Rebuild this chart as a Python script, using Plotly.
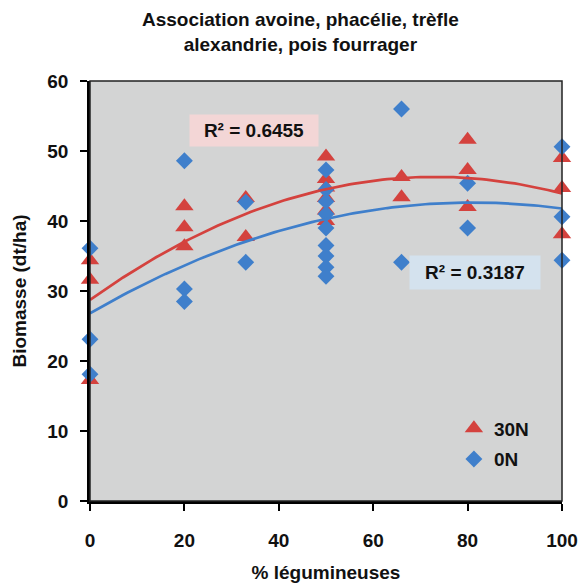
import numpy as np
import plotly.graph_objects as go

# Data
x_30n = [0, 0, 0, 20, 20, 20, 33, 33, 50, 50, 50, 50, 50, 50, 66, 66, 80, 80, 80, 100, 100, 100]
y_30n = [34.4, 31.6, 17.3, 42.1, 39.1, 36.4, 43.3, 37.7, 49.2, 46.0, 44.8, 43.3, 41.5, 40.0,
         46.3, 43.4, 51.6, 47.3, 42.0, 49.0, 44.7, 38.1]
x_0n = [0, 0, 0, 20, 20, 20, 33, 33, 50, 50, 50, 50, 50, 50, 50, 50, 50, 66, 66, 80, 80, 100, 100, 100]
y_0n = [36.1, 23.1, 18.1, 48.6, 30.3, 28.5, 42.7, 34.1, 47.3, 44.5, 42.8, 41.0, 39.0, 36.5, 35.0,
        33.4, 32.1, 56.0, 34.1, 45.4, 39.0, 50.6, 40.6, 34.4]
r2_labels = ["R² = 0.6455", "R² = 0.3187"]
x_ticks = [0, 20, 40, 60, 80, 100]
y_ticks = [0, 10, 20, 30, 40, 50, 60]
title_text = "Association avoine, phacélie, trèfle<br>alexandrie, pois fourrager"

RED = "#d4423e"
BLUE = "#3f7fcb"
FAM = "Liberation Sans, Arial, sans-serif"
FS = 19

xs = np.linspace(0, 100, 101)
fit_red = np.polyval(np.polyfit(x_30n, y_30n, 2), xs)
fit_blue = np.polyval(np.polyfit(x_0n, y_0n, 2), xs)

fig = go.Figure()
fig.add_trace(go.Scatter(x=x_30n, y=y_30n, mode="markers", name="30N", legendgroup="a",
                         cliponaxis=False,
                         marker=dict(symbol="triangle-up", size=16, color=RED)))
fig.add_trace(go.Scatter(x=x_0n, y=y_0n, mode="markers", name="0N", legendgroup="b",
                         cliponaxis=False,
                         marker=dict(symbol="diamond", size=13, color=BLUE)))
fig.add_trace(go.Scatter(x=xs, y=fit_red, mode="lines", line=dict(color=RED, width=2.7),
                         showlegend=False, hoverinfo="skip"))
fig.add_trace(go.Scatter(x=xs, y=fit_blue, mode="lines", line=dict(color=BLUE, width=2.7),
                         showlegend=False, hoverinfo="skip"))

bold = dict(family=FAM, size=FS, color="#111111", weight="bold")

fig.add_annotation(x=34.7, y=52.9, xref="x", yref="y", text=r2_labels[0],
                   showarrow=False, bgcolor="#f3d6d6", font=bold,
                   width=122, height=25, borderpad=3)
fig.add_annotation(x=81.6, y=32.6, xref="x", yref="y", text=r2_labels[1],
                   showarrow=False, bgcolor="#d4e2ee", font=bold,
                   width=124, height=27, borderpad=3)
# title (as annotation for exact placement of the two lines)
fig.add_annotation(x=(300 - 90) / 472, y=(501 - 7) / 420, xref="paper", yref="paper",
                   xanchor="center", yanchor="top", text=title_text, showarrow=False,
                   font=dict(family=FAM, size=19, color="#111", weight="bold"))

fig.add_shape(type="rect", xref="x domain", yref="y domain", x0=0, x1=1, y0=0, y1=1,
              line=dict(color="#222", width=1.5), layer="above")

fig.update_layout(
    width=582, height=587,
    margin=dict(l=90, r=20, t=81, b=86),
    paper_bgcolor="white",
    plot_bgcolor="#d3d4d4",
    font=bold,
    legend=dict(x=0.771, y=0.218, xanchor="left", yanchor="top", bgcolor="rgba(0,0,0,0)",
                font=bold, traceorder="grouped", tracegroupgap=3),
    xaxis=dict(range=[0, 100], tickvals=x_ticks, automargin=False,
               showgrid=False, zeroline=False, showline=True, linecolor="black", linewidth=2.5,
               ticks="outside", ticklen=7, tickwidth=2, tickcolor="black",
               ticklabelstandoff=13, tickfont=bold,
               title=dict(text="% légumineuses", standoff=17, font=bold)),
    yaxis=dict(range=[0, 60], tickvals=y_ticks, automargin=False,
               showgrid=False, zeroline=False, showline=True, linecolor="black", linewidth=2.5,
               ticks="outside", ticklen=7, tickwidth=2, tickcolor="black",
               ticklabelstandoff=8, tickfont=bold,
               title=dict(text="Biomasse (dt/ha)", standoff=16, font=bold)),
)

fig.write_html("out.html")
